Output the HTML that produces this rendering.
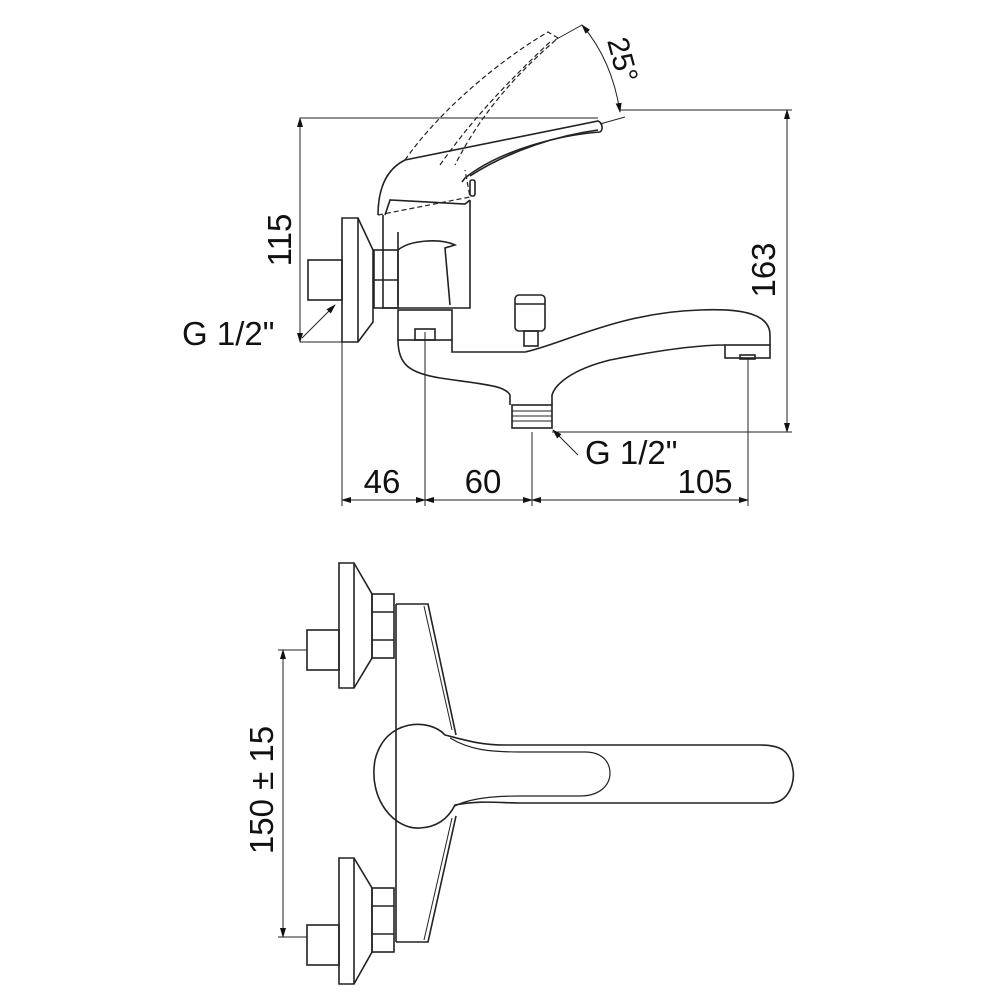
<!DOCTYPE html>
<html><head><meta charset="utf-8"><style>
html,body{margin:0;padding:0;background:#fff;}
svg{display:block}
text{font-family:"Liberation Sans",sans-serif;fill:#111}
</style></head><body>
<svg width="1000" height="1000" viewBox="0 0 1000 1000" xmlns="http://www.w3.org/2000/svg">
<defs>
<marker id="a" markerWidth="10" markerHeight="8" refX="9" refY="4" orient="auto-start-reverse" markerUnits="userSpaceOnUse"><path d="M0,1 L10,4 L0,7 Z" fill="#111"/></marker>
</defs>
<g fill="none" stroke="#222" stroke-width="1.6">
<line x1="300" y1="118" x2="598" y2="118" stroke-width="1"/>
<line x1="300" y1="118" x2="300" y2="342" stroke-width="1" marker-start="url(#a)" marker-end="url(#a)"/>
<line x1="300" y1="342" x2="342" y2="342" stroke-width="1"/>
<line x1="620" y1="110" x2="792" y2="110" stroke-width="1"/>
<line x1="787" y1="110" x2="787" y2="432" stroke-width="1" marker-start="url(#a)" marker-end="url(#a)"/>
<line x1="552" y1="432" x2="792" y2="432" stroke-width="1"/>
<line x1="342" y1="342" x2="342" y2="506" stroke-width="1"/>
<line x1="425" y1="332" x2="425" y2="506" stroke-width="1"/>
<line x1="532" y1="432" x2="532" y2="506" stroke-width="1"/>
<line x1="748" y1="358" x2="748" y2="506" stroke-width="1"/>
<line x1="342" y1="500" x2="425" y2="500" stroke-width="1" marker-start="url(#a)" marker-end="url(#a)"/>
<line x1="425" y1="500" x2="532" y2="500" stroke-width="1" marker-start="url(#a)" marker-end="url(#a)"/>
<line x1="532" y1="500" x2="748" y2="500" stroke-width="1" marker-start="url(#a)" marker-end="url(#a)"/>
<line x1="302" y1="338" x2="335" y2="305" stroke-width="1" marker-end="url(#a)"/>
<polyline points="578,455 553,430" stroke-width="1" marker-end="url(#a)"/>
<line x1="582" y1="25" x2="555" y2="40" stroke-width="1"/>
<line x1="600" y1="124" x2="625" y2="117" stroke-width="1"/>
<path d="M582,25 Q612,60 620,112" stroke-width="1" marker-start="url(#a)" marker-end="url(#a)"/>
<path d="M342,218 H358 L373,250 V322 L358,342 H342 Z"/>
<line x1="358" y1="218" x2="358" y2="342"/>
<rect x="308" y="260" width="34" height="40"/>
<rect x="374" y="250" width="24" height="58"/>
<line x1="374" y1="280" x2="398" y2="280"/>
<path d="M383,215 L383,308 H470 V200"/>
<path d="M398,250 C410,240 440,238 455,245 L445,248 L450,305"/>
<path d="M398,232 L398,305"/>
<path d="M378,215 C378,190 385,170 405,160 L598,121 C603,123 603,130 600,132 C560,135 500,150 465,178 L462,182"/>
<path d="M470,176 C510,150 560,135 598,130"/>
<path d="M385,215 L390,200 L465,204 L470,200"/>
<rect x="470" y="180" width="5" height="16" rx="2"/>
<g stroke-dasharray="5,3" stroke-width="1.2">
<path d="M378,215 L470,197 L465,170"/>
<path d="M405,160 C440,110 500,60 548,32 L558,38 C515,75 480,115 455,165"/>
<path d="M440,165 C475,115 515,75 552,40"/>
</g>
<rect x="398" y="310" width="54" height="30"/>
<rect x="415" y="329" width="20" height="11"/>
<path d="M398,340 C398,365 410,373 440,378 C480,384 505,385 510,395 V405"/>
<path d="M452,340 V352 H525 C560,345 620,312 700,310 C745,308 770,315 770,335 V345"/>
<path d="M552,405 V395 C555,385 570,370 610,360 C660,350 700,345 725,345"/>
<rect x="725" y="345" width="45" height="13"/>
<rect x="740" y="355" width="15" height="4"/>
<rect x="512" y="405" width="40" height="23"/>
<line x1="512" y1="411" x2="552" y2="411" stroke-width="1"/>
<line x1="512" y1="416" x2="552" y2="416" stroke-width="1"/>
<line x1="512" y1="421" x2="552" y2="421" stroke-width="1"/>
<rect x="515" y="295" width="30" height="36" rx="4"/>
<line x1="515" y1="304" x2="545" y2="304"/>
<rect x="524" y="331" width="14" height="15"/>

<path d="M339,563 H354 L372,594 V658 L354,688 H339 Z"/>
<line x1="354" y1="563" x2="354" y2="688"/>
<rect x="307" y="630" width="32" height="40"/>
<rect x="372" y="594" width="22" height="64"/>
<line x1="372" y1="612" x2="394" y2="612"/><line x1="372" y1="640" x2="394" y2="640"/>
<path d="M339,858 H354 L372,888 V952 L354,984 H339 Z"/>
<line x1="354" y1="858" x2="354" y2="984"/>
<rect x="307" y="925" width="32" height="40"/>
<rect x="372" y="888" width="22" height="64"/>
<line x1="372" y1="906" x2="394" y2="906"/><line x1="372" y1="934" x2="394" y2="934"/>
<line x1="396" y1="604" x2="396" y2="942"/>
<path d="M396,604 H428 L456,735"/>
<path d="M424,606 L452,730" stroke-width="1"/>
<path d="M396,942 H428 L456,816"/>
<path d="M424,940 L452,818" stroke-width="1"/>
<path d="M445,735 C430,718 385,718 375,760 C368,800 395,830 420,828 C440,827 450,815 455,805 C480,800 500,803 520,803 H770 C790,803 795,780 793,770 C790,750 780,745 760,745 H505 C480,745 465,740 445,735 Z"/>
<path d="M450,738 C470,750 490,752 520,752 H585 C605,752 610,765 610,773 C610,785 600,796 580,796 H520 C495,796 470,798 455,806" stroke-width="1.2"/>
<line x1="278" y1="650" x2="307" y2="650" stroke-width="1"/>
<line x1="278" y1="937" x2="307" y2="937" stroke-width="1"/>
<line x1="283" y1="650" x2="283" y2="937" stroke-width="1" marker-start="url(#a)" marker-end="url(#a)"/>
</g>
<g font-size="33">
<text x="298" y="240" transform="rotate(-90 298 240)" text-anchor="middle" dominant-baseline="text-after-edge">115</text>
<text x="782" y="270" transform="rotate(-90 782 270)" text-anchor="middle" dominant-baseline="text-after-edge">163</text>
<text x="382" y="493" text-anchor="middle">46</text>
<text x="483" y="493" text-anchor="middle">60</text>
<text x="705" y="493" text-anchor="middle">105</text>
<text x="585" y="464">G 1/2"</text>
<text x="182" y="345">G 1/2"</text>
<text x="280" y="790" transform="rotate(-90 280 790)" text-anchor="middle" dominant-baseline="text-after-edge">150 ± 15</text>
<text x="622" y="60" transform="rotate(75 622 60)" text-anchor="middle" dominant-baseline="central" font-size="30">25°</text>
</g>
</svg>
</body></html>
